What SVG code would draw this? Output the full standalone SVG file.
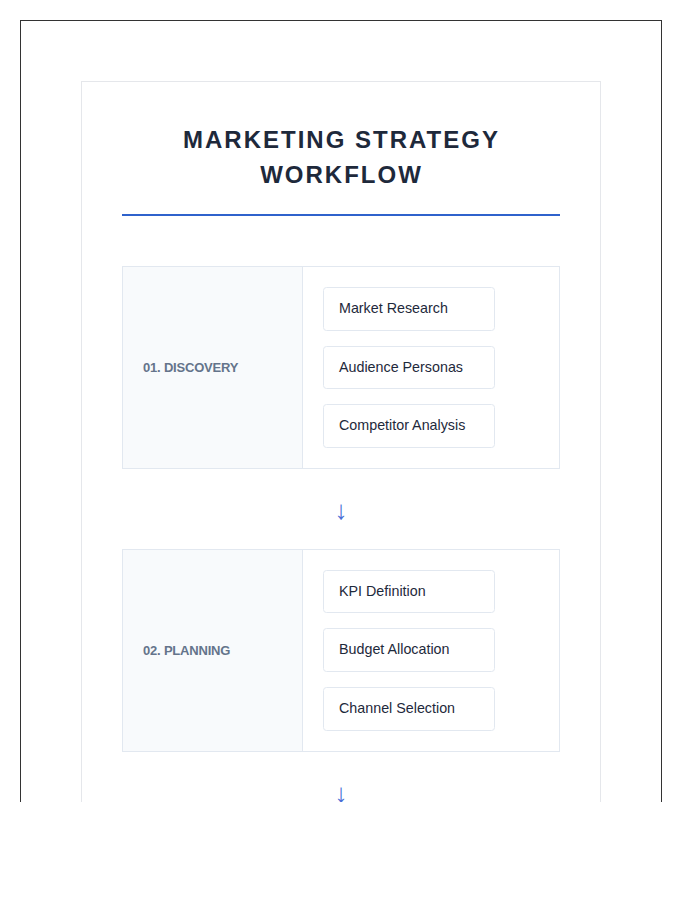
<svg xmlns="http://www.w3.org/2000/svg" width="700" height="900" viewBox="0 0 700 900">
  <defs>
    <clipPath id="page"><rect x="0" y="0" width="700" height="802"/></clipPath>
  </defs>
  <style>
    .frame { fill: none; stroke: #333333; stroke-width: 1; }
    .card { fill: #ffffff; stroke: #e5e7eb; stroke-width: 1; }
    .title { font-family: "Liberation Sans", Arial, sans-serif; font-weight: bold; font-size: 24px; letter-spacing: 2px; fill: #1e293b; text-anchor: middle; }
    .rule { fill: #2f62cc; }
    .stage { fill: #ffffff; stroke: #e2e8f0; stroke-width: 1; }
    .stage-head { fill: #f8fafc; }
    .divider { stroke: #e2e8f0; stroke-width: 1; }
    .stage-label { font-family: "Liberation Sans", Arial, sans-serif; font-weight: bold; font-size: 13px; letter-spacing: -0.2px; fill: #64748b; }
    .task { fill: #ffffff; stroke: #e2e8f0; stroke-width: 1; }
    .task-text { font-family: "Liberation Sans", Arial, sans-serif; font-size: 14.3px; fill: #1e293b; }
    .arrow { font-family: "Liberation Sans", Arial, sans-serif; font-size: 26px; fill: #4a6fd6; text-anchor: middle; }
  </style>
  <rect x="0" y="0" width="700" height="900" fill="#ffffff"/>
  <g clip-path="url(#page)">
    <rect class="frame" x="20.5" y="20.5" width="641" height="900"/>
    <rect class="card" x="81.5" y="81.5" width="519" height="900"/>

    <g id="title">
      <text class="title" x="341.5" y="148">MARKETING STRATEGY</text>
      <text class="title" x="341.5" y="183">WORKFLOW</text>
      <rect class="rule" x="122" y="214" width="438" height="2"/>
    </g>

    <g id="stage-discovery">
      <rect class="stage" x="122.5" y="266.5" width="437" height="202"/>
      <rect class="stage-head" x="123" y="267" width="179" height="201"/>
      <line class="divider" x1="302.5" y1="267" x2="302.5" y2="468"/>
      <text class="stage-label" x="143" y="372">01. DISCOVERY</text>
    </g>
    <g id="task-market-research">
      <rect class="task" x="323.5" y="287.5" width="171" height="43" rx="3"/>
      <text class="task-text" x="339" y="313">Market Research</text>
    </g>
    <g id="task-audience-personas">
      <rect class="task" x="323.5" y="346.5" width="171" height="42" rx="3"/>
      <text class="task-text" x="339" y="372">Audience Personas</text>
    </g>
    <g id="task-competitor-analysis">
      <rect class="task" x="323.5" y="404.5" width="171" height="43" rx="3"/>
      <text class="task-text" x="339" y="430">Competitor Analysis</text>
    </g>

    <g id="stage-planning">
      <rect class="stage" x="122.5" y="549.5" width="437" height="202"/>
      <rect class="stage-head" x="123" y="550" width="179" height="201"/>
      <line class="divider" x1="302.5" y1="550" x2="302.5" y2="751"/>
      <text class="stage-label" x="143" y="655">02. PLANNING</text>
    </g>
    <g id="task-kpi-definition">
      <rect class="task" x="323.5" y="570.5" width="171" height="42" rx="3"/>
      <text class="task-text" x="339" y="596">KPI Definition</text>
    </g>
    <g id="task-budget-allocation">
      <rect class="task" x="323.5" y="628.5" width="171" height="43" rx="3"/>
      <text class="task-text" x="339" y="654">Budget Allocation</text>
    </g>
    <g id="task-channel-selection">
      <rect class="task" x="323.5" y="687.5" width="171" height="43" rx="3"/>
      <text class="task-text" x="339" y="713">Channel Selection</text>
    </g>

    <g id="connectors">
      <text class="arrow" x="341" y="519">↓</text>
      <text class="arrow" x="341" y="802">↓</text>
    </g>
  </g>
</svg>
